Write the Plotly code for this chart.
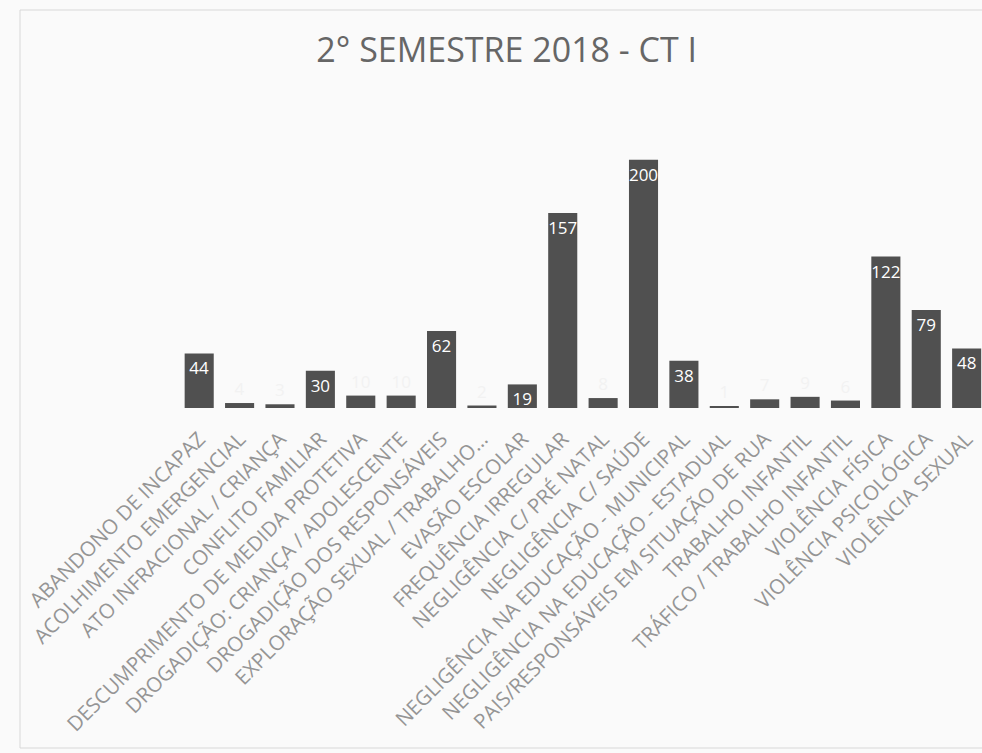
import plotly.graph_objects as go

categories = [
    "ABANDONO DE INCAPAZ",
    "ACOLHIMENTO EMERGENCIAL",
    "ATO INFRACIONAL / CRIANÇA",
    "CONFLITO FAMILIAR",
    "DESCUMPRIMENTO DE MEDIDA PROTETIVA",
    "DROGADIÇÃO: CRIANÇA / ADOLESCENTE",
    "DROGADIÇÃO DOS RESPONSÁVEIS",
    "EXPLORAÇÃO SEXUAL / TRABALHO...",
    "EVASÃO ESCOLAR",
    "FREQUÊNCIA IRREGULAR",
    "NEGLIGÊNCIA C/ PRÉ NATAL",
    "NEGLIGÊNCIA C/ SAÚDE",
    "NEGLIGÊNCIA NA EDUCAÇÃO - MUNICIPAL",
    "NEGLIGÊNCIA NA EDUCAÇÃO - ESTADUAL",
    "PAIS/RESPONSÁVEIS EM SITUAÇÃO DE RUA",
    "TRABALHO INFANTIL",
    "TRÁFICO / TRABALHO INFANTIL",
    "VIOLÊNCIA FÍSICA",
    "VIOLÊNCIA PSICOLÓGICA",
    "VIOLÊNCIA SEXUAL",
]
values = [44, 4, 3, 30, 10, 10, 62, 2, 19, 157, 8, 200, 38, 1, 7, 9, 6, 122, 79, 48]

positions = ["inside" if v >= 15 else "outside" for v in values]

fig = go.Figure(
    go.Bar(
        x=list(range(len(categories))),
        y=values,
        text=[str(v) for v in values],
        textposition=positions,
        textangle=0,
        insidetextanchor="end",
        textfont=dict(family="Open Sans", size=17, color="white"),
        outsidetextfont=dict(family="Open Sans", size=17, color="#f2f2f2"),
        marker=dict(color="#505050", line=dict(width=0)),
        cliponaxis=False,
    )
)

fig.update_layout(
    width=982,
    height=753,
    margin=dict(l=179, r=0, t=120, b=345),
    paper_bgcolor="#fafafa",
    plot_bgcolor="#fafafa",
    bargap=0.28,
    showlegend=False,
    title=dict(
        text="2° SEMESTRE 2018 - CT I",
        x=0.516,
        xanchor="center",
        y=0.933,
        yanchor="middle",
        font=dict(family="Open Sans", size=34, color="#666666"),
    ),
    uniformtext=dict(minsize=15, mode="show"),
)

fig.update_xaxes(
    tickmode="array",
    tickvals=list(range(len(categories))),
    ticktext=categories,
    tickangle=-45,
    tickfont=dict(family="Open Sans", size=20.5, color="#959595"),
    range=[-0.5, 19.38],
    showgrid=False,
    zeroline=False,
    showline=False,
    ticks="outside",
    ticklen=10,
    tickcolor="rgba(0,0,0,0)",
    automargin=False,
)
fig.update_yaxes(
    range=[0, 232],
    visible=False,
    showgrid=False,
)

fig.add_shape(
    type="rect", xref="paper", yref="paper",
    x0=(20 - 179) / 803, x1=1.02, y0=(408 - 748) / 288, y1=(408 - 10) / 288,
    line=dict(color="#d8d8d8", width=1),
)

fig.write_html("out.html", config={"displayModeBar": False})

with open("out.html", "r", encoding="utf-8") as f:
    html = f.read()
html = html.replace("<head>", "<head><style>html,body{margin:0;padding:0;overflow:hidden;}</style>", 1)
with open("out.html", "w", encoding="utf-8") as f:
    f.write(html)
